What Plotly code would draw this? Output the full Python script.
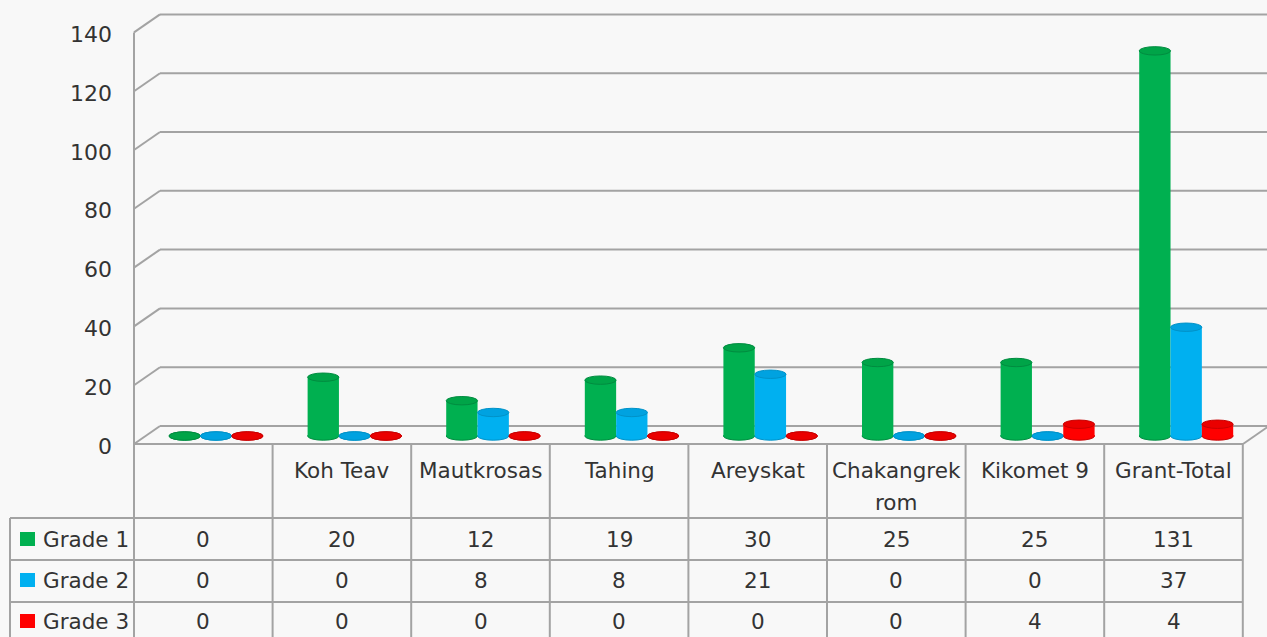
import plotly.graph_objects as go

# ---------------- data ----------------
categories = ["", "Koh Teav", "Mautkrosas", "Tahing", "Areyskat",
              "Chakangrek\nrom", "Kikomet 9", "Grant-Total"]
series_names = ["Grade 1", "Grade 2", "Grade 3"]
grade1 = [0, 20, 12, 19, 30, 25, 25, 131]
grade2 = [0, 0, 8, 8, 21, 0, 0, 37]
grade3 = [0, 0, 0, 0, 0, 0, 4, 4]
y_ticks = [0, 20, 40, 60, 80, 100, 120, 140]

series_values = [grade1, grade2, grade3]
body_colors = ["#00b050", "#00b0f0", "#ff0000"]
top_colors = ["#00a448", "#00a2e0", "#ea0000"]
edge_colors = ["#008c40", "#0092c8", "#c80000"]

# ---------------- geometry (pixels of the 1267x637 canvas) ----------------
W, H = 1267, 637
PX_X0 = 216.0     # pixel of category 0 centre (bar mid-depth)
PX_CAT = 138.6    # pixels per category
PX_Y0 = 436.0     # pixel of value 0 (bar base)
PX_UNIT = 2.94    # pixels per value unit


def X(px):
    return (px - PX_X0) / PX_CAT


def Y(py):
    return (PX_Y0 - py) / PX_UNIT


BW = 0.226                      # bar width in category units
E = 4.2 / PX_UNIT               # half height of cylinder ellipses
FRONT_DX, FRONT_DY = X(134), Y(444)   # front plane (axis / floor front)
BACK_DX, BACK_DY = X(160), Y(426)     # back wall
GRID = "#a3a3a3"
TXT = "#333333"
FONT = "DejaVu Sans"
FS = 21.5
FS_TICK = 22

fig = go.Figure()

# bars (cylinder bodies)
for k, (name, vals) in enumerate(zip(series_names, series_values)):
    fig.add_trace(go.Bar(
        x=list(range(len(categories))), y=vals, name=name,
        width=BW, offset=-1.5 * BW + k * BW,
        marker=dict(color=body_colors[k], line=dict(width=0)),
        showlegend=False, hoverinfo="y+name"))

shapes = []
dy_front = FRONT_DY            # value offset of front plane (negative)
dy_back = BACK_DY              # value offset of back wall

# back wall gridlines + diagonal connectors
for g in y_ticks:
    shapes.append(dict(type="line", xref="x", yref="y",
                       x0=BACK_DX, x1=X(W + 5), y0=g + dy_back, y1=g + dy_back,
                       line=dict(color=GRID, width=2), layer="below"))
    shapes.append(dict(type="line", xref="x", yref="y",
                       x0=FRONT_DX, x1=BACK_DX, y0=g + dy_front, y1=g + dy_back,
                       line=dict(color=GRID, width=2), layer="below"))
# front vertical axis line
shapes.append(dict(type="line", xref="x", yref="y",
                   x0=FRONT_DX, x1=FRONT_DX, y0=dy_front, y1=y_ticks[-1] + dy_front,
                   line=dict(color=GRID, width=2), layer="below"))
# floor front edge and right side
shapes.append(dict(type="line", xref="x", yref="y",
                   x0=FRONT_DX, x1=X(1243), y0=dy_front, y1=dy_front,
                   line=dict(color=GRID, width=2), layer="below"))
shapes.append(dict(type="line", xref="x", yref="y",
                   x0=X(1243), x1=X(1243) + (BACK_DX - FRONT_DX), y0=dy_front, y1=dy_back,
                   line=dict(color=GRID, width=2), layer="below"))

# table grid
n = len(categories)
col_edges = [FRONT_DX + i for i in range(n + 1)]
for xe in col_edges:
    shapes.append(dict(type="line", xref="x", yref="y",
                       x0=xe, x1=xe, y0=dy_front, y1=Y(H + 5),
                       line=dict(color=GRID, width=2), layer="below"))
for py in (518, 560, 602):
    shapes.append(dict(type="line", xref="x", yref="y",
                       x0=X(10), x1=col_edges[-1], y0=Y(py), y1=Y(py),
                       line=dict(color=GRID, width=2), layer="below"))
shapes.append(dict(type="line", xref="x", yref="y",
                   x0=X(10), x1=X(10), y0=Y(518), y1=Y(H + 5),
                   line=dict(color=GRID, width=2), layer="below"))

# cylinder ellipses: bottoms under the bodies, tops above, computed from the data
for k, vals in enumerate(series_values):
    for i, v in enumerate(vals):
        cx = i + (k - 1) * BW
        shapes.append(dict(type="circle", xref="x", yref="y",
                           x0=cx - BW / 2, x1=cx + BW / 2, y0=-E, y1=E,
                           fillcolor=body_colors[k],
                           line=dict(color=edge_colors[k], width=1), layer="below"))
for k, vals in enumerate(series_values):
    for i, v in enumerate(vals):
        cx = i + (k - 1) * BW
        shapes.append(dict(type="circle", xref="x", yref="y",
                           x0=cx - BW / 2, x1=cx + BW / 2, y0=v - E, y1=v + E,
                           fillcolor=top_colors[k],
                           line=dict(color=edge_colors[k], width=1), layer="above"))

annotations = []
# y tick labels
for g in y_ticks:
    annotations.append(dict(xref="x", yref="y", x=X(114), y=g + Y(446),
                            text=str(g), showarrow=False, xanchor="right",
                            yanchor="middle", font=dict(family=FONT, size=FS_TICK, color=TXT)))
# header row
for i, cat in enumerate(categories):
    cx = FRONT_DX + i + 0.5
    for j, line in enumerate(cat.split("\n")):
        if not line:
            continue
        annotations.append(dict(xref="x", yref="y", x=cx, y=Y(470 + 32 * j),
                                text=line, showarrow=False, xanchor="center",
                                yanchor="middle",
                                font=dict(family=FONT, size=FS, color=TXT)))
# series rows
row_py = [539, 580, 621]
for k, (name, vals) in enumerate(zip(series_names, series_values)):
    yc = Y(row_py[k])
    shapes.append(dict(type="rect", xref="x", yref="y",
                       x0=X(20), x1=X(35), y0=yc - 7 / PX_UNIT, y1=yc + 7 / PX_UNIT,
                       fillcolor=body_colors[k], line=dict(width=0), layer="above"))
    annotations.append(dict(xref="x", yref="y", x=X(41), y=yc, text=name,
                            showarrow=False, xanchor="left", yanchor="middle",
                            font=dict(family=FONT, size=FS, color=TXT)))
    for i, v in enumerate(vals):
        annotations.append(dict(xref="x", yref="y", x=FRONT_DX + i + 0.5, y=yc,
                                text=str(v), showarrow=False, xanchor="center",
                                yanchor="middle",
                                font=dict(family=FONT, size=FS, color=TXT)))

fig.update_layout(
    width=W, height=H,
    margin=dict(l=0, r=0, t=0, b=0),
    paper_bgcolor="#f8f8f8", plot_bgcolor="#f8f8f8",
    barmode="overlay",
    xaxis=dict(range=[X(0), X(W)], visible=False, fixedrange=True),
    yaxis=dict(range=[Y(H), Y(0)], visible=False, fixedrange=True),
    shapes=shapes, annotations=annotations, showlegend=False,
)

fig.write_html("out.html", config={"displayModeBar": False},
               post_script="document.body.style.margin='0';")
